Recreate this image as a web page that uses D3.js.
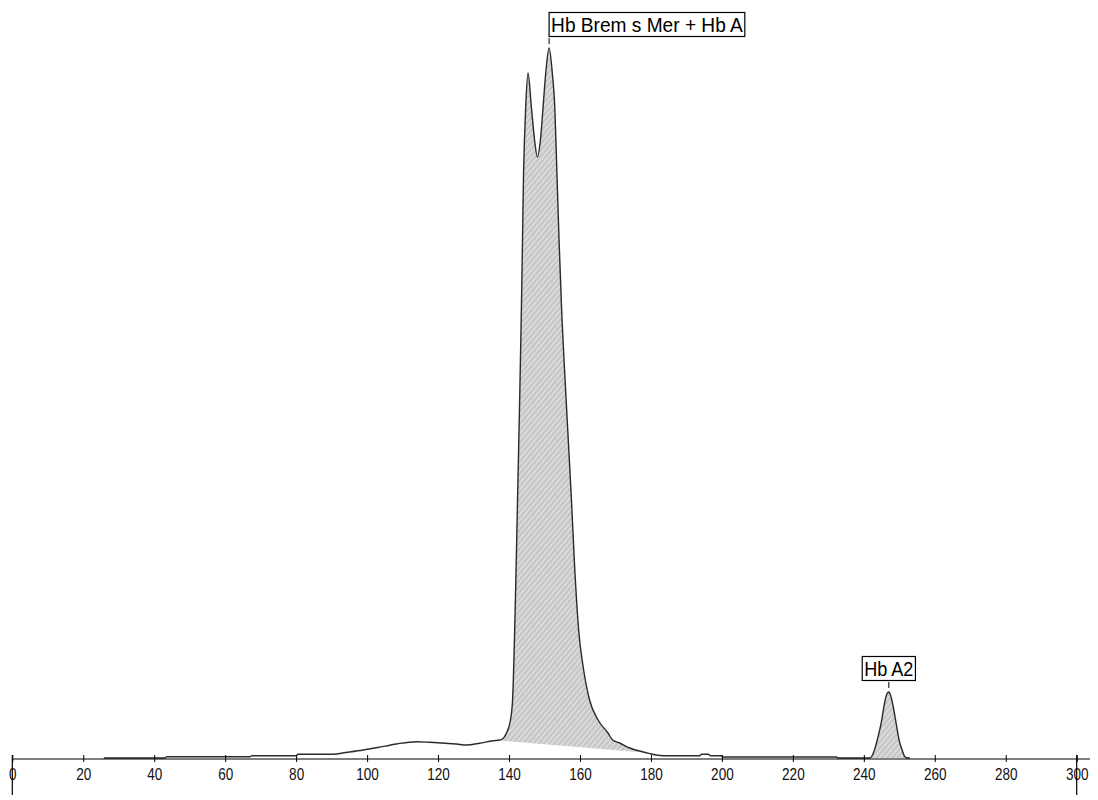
<!DOCTYPE html>
<html>
<head>
<meta charset="utf-8">
<script src="https://cdn.jsdelivr.net/npm/d3@7"></script>
<style>
  body { margin: 0; background: #fff; }
  svg { display: block; font-family: "Liberation Sans", Arial, sans-serif; }
</style>
</head>
<body>
<svg id="chart"></svg>
<script>
// retention time (s) and detector signal
const times = [25.8, 43, 43.5, 67, 67.5, 80, 80.5, 90.3, 94, 98.9, 103, 108.3, 113.9, 117.7, 121, 125.2, 128, 131.7,
  135.5, 137.4, 137.9, 139.3, 140.4, 141, 141.8, 142.4, 143, 143.5, 143.8, 144.1, 144.35, 144.7, 145.35, 146.3, 147.2,
  148, 148.85, 149.6, 150.35, 151.3, 152.2, 152.9, 153.5, 154.1, 154.8, 156.1, 157.6, 158.5, 159.7, 160.9, 162.7,
  165.1, 167.9, 169.2, 171.2, 174, 178.7, 180.1, 183.3, 193.7, 194.3, 196.2, 196.8, 199.9, 200.2, 232.3, 232.6,
  241.6, 242.3, 243, 244, 244.9, 245.8, 246.5, 247.05, 247.6, 248.3, 249.1, 250, 250.8, 251.5, 252.3, 253];
const signal = [1, 1, 2.3, 2.3, 3.3, 3.3, 4.7, 4.7, 6.5, 9, 11.5, 15, 17.3, 16.7, 16, 15, 14, 15.7,
  18.3, 19, 19.5, 26, 39, 59, 159, 259, 359, 452, 519, 586, 619, 652, 686, 652, 619,
  602, 619, 652, 686, 711, 686, 652, 586, 519, 452, 359, 259, 192, 126, 92, 59,
  39, 26, 19, 16, 11, 6.3, 5, 3.3, 3.3, 4.7, 4.7, 3.3, 3.3, 2, 2, 1,
  1, 3, 9, 22, 36, 55, 65, 67, 63, 52, 36, 18, 9, 2.5, 1, 1];

// integrated peaks: start, end, apex, name
const peakStart = [136.5, 241.6];
const peakEnd = [178.7, 252.3];
const peakApex = [151.3, 247.05];
const peakNames = ["Hb Brem s Mer + Hb A", "Hb A2"];

const xTicks = [0, 20, 40, 60, 80, 100, 120, 140, 160, 180, 200, 220, 240, 260, 280, 300];

const width = 1098, height = 800;
const svg = d3.select("#chart").attr("width", width).attr("height", height);

const x = d3.scaleLinear().domain([0, 300]).range([12.3, 1076.7]);
const y = d3.scaleLinear().domain([0, 711]).range([759, 48]);

const data = times.map((t, i) => ({ t: t, v: signal[i] }));

const defs = svg.append("defs");
const pat = defs.append("pattern")
  .attr("id", "hatch")
  .attr("patternUnits", "userSpaceOnUse")
  .attr("width", 4).attr("height", 4)
  .attr("patternTransform", "rotate(40)");
pat.append("rect").attr("width", 4).attr("height", 4).attr("fill", "#c6c6c6");
pat.append("rect").attr("width", 1.4).attr("height", 4).attr("fill", "#e2e2e2");

const interp = t => {
  const i = d3.bisector(d => d.t).left(data, t);
  if (i <= 0) return data[0].v;
  if (i >= data.length) return data[data.length - 1].v;
  const a = data[i - 1], b = data[i];
  return a.v + (b.v - a.v) * (t - a.t) / (b.t - a.t);
};

const line = d3.line().x(d => x(d.t)).y(d => y(d.v)).curve(d3.curveMonotoneX);

// shaded peak areas closed by a straight baseline
peakStart.forEach((s, k) => {
  const e = peakEnd[k];
  const pts = [{ t: s, v: interp(s) }]
    .concat(data.filter(d => d.t > s && d.t < e))
    .concat([{ t: e, v: interp(e) }]);
  const path = line(pts) + `L${x(s)},${y(interp(s))}Z`;
  svg.append("path").attr("d", path).attr("fill", "url(#hatch)").attr("stroke", "none");
});

svg.append("path")
  .datum(data)
  .attr("d", line)
  .attr("fill", "none")
  .attr("stroke", "#2a2a2a")
  .attr("stroke-width", 1.4);

// axis
const axisY = 759;
svg.append("line")
  .attr("x1", x(0)).attr("x2", 1090)
  .attr("y1", axisY).attr("y2", axisY)
  .attr("stroke", "#000").attr("stroke-width", 1.2);

const ax = svg.append("g").attr("transform", `translate(0,${axisY})`)
  .call(d3.axisBottom(x).tickValues(xTicks).tickSize(3).tickSizeOuter(0));
ax.select(".domain").remove();
ax.selectAll(".tick line").attr("y1", -4).attr("y2", 3).attr("stroke", "#000");
ax.selectAll(".tick text")
  .attr("font-size", 16.5)
  .attr("fill", "#111")
  .attr("font-family", "\"Liberation Sans\", Arial, sans-serif")
  .attr("y", 21).attr("dy", 0)
  .each(function () {
    const w = this.getComputedTextLength();
    d3.select(this).attr("textLength", w * 0.82).attr("lengthAdjust", "spacingAndGlyphs");
  });

[0, 300].forEach(v => {
  svg.append("line")
    .attr("x1", x(v)).attr("x2", x(v))
    .attr("y1", 755).attr("y2", 795)
    .attr("stroke", "#000").attr("stroke-width", 1.2);
});

// peak labels
peakNames.forEach((name, k) => {
  const px = x(peakApex[k]);
  const py = y(interp(peakApex[k]));
  const boxH = 24;
  const boxBottom = py - 11.5;
  const g = svg.append("g");
  const txt = g.append("text")
    .attr("font-size", 21)
    .attr("fill", "#000")
    .text(name);
  const tw = txt.node().getComputedTextLength() * (k === 0 ? 0.91 : 0.86);
  txt.attr("textLength", tw).attr("lengthAdjust", "spacingAndGlyphs");
  const w = tw + 4;
  const bx = k === 0 ? px : px - w / 2;
  g.insert("rect", "text")
    .attr("x", bx).attr("y", boxBottom - boxH)
    .attr("width", w).attr("height", boxH)
    .attr("fill", "#fff").attr("stroke", "#000").attr("stroke-width", 1.2);
  txt.attr("x", bx + 2).attr("y", boxBottom - 4.5);
  g.append("line")
    .attr("x1", px).attr("x2", px)
    .attr("y1", boxBottom + 1.5).attr("y2", py - 4)
    .attr("stroke", "#000").attr("stroke-width", 1);
});
</script>
</body>
</html>
